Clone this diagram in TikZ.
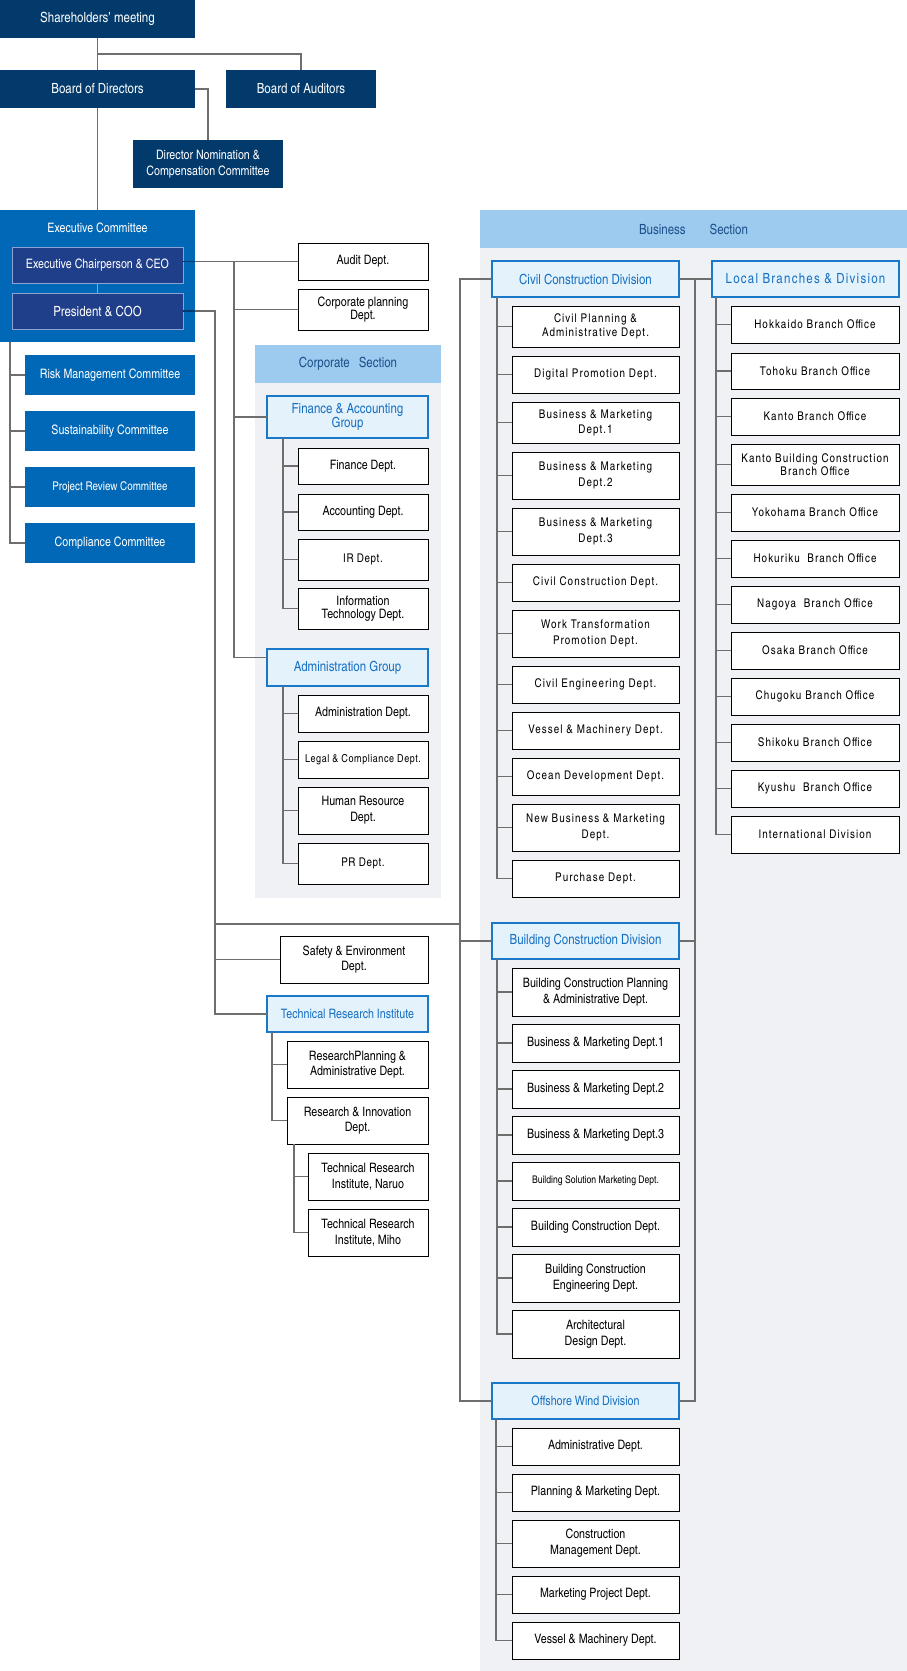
\documentclass[tikz,border=0pt]{standalone}
\usepackage{fontspec}
\setmainfont{texgyreheroscn}[Extension=.otf,UprightFont=*-regular,BoldFont=*-bold,ItalicFont=*-italic,BoldItalicFont=*-bolditalic]
\newfontfamily\spcfont{texgyreheroscn}[Extension=.otf,UprightFont=*-regular,BoldFont=*-bold,LetterSpace=9]
\newfontfamily\spclight{texgyreheroscn}[Extension=.otf,UprightFont=*-regular,BoldFont=*-bold,LetterSpace=5]
\definecolor{navyc}{HTML}{023A6C}
\definecolor{bluec}{HTML}{0068B6}
\definecolor{execc}{HTML}{203F8A}
\definecolor{execbd}{HTML}{8EA3D3}
\definecolor{headc}{HTML}{9CCBEF}
\definecolor{headtxt}{HTML}{1D4F8A}
\definecolor{bodyc}{HTML}{F0F1F5}
\definecolor{divc}{HTML}{E4F2FC}
\definecolor{divbd}{HTML}{1A78C8}
\definecolor{divtxt}{HTML}{1670C2}
\definecolor{linec}{HTML}{6E6E6E}
\tikzset{
  base/.style={rectangle, inner sep=0pt, outer sep=0pt, align=center},
  navybox/.style={base, fill=navyc, text=white, font=\fontsize{14}{16}\selectfont},
  bluebox/.style={base, fill=bluec, text=white, font=\fontsize{13}{15}\selectfont},
  execbox/.style={base, fill=execc, draw=execbd, line width=1pt, text=white, font=\fontsize{13}{15}\selectfont},
  headbox/.style={base, fill=headc, text=headtxt, font=\fontsize{14}{16}\selectfont},
  divbox/.style={base, fill=divc, draw=divbd, line width=1.5pt, text=divtxt, font=\fontsize{14}{15.5}\selectfont},
  wbox/.style={base, fill=white, draw=black, line width=1pt, font=\fontsize{13}{15.5}\selectfont},
  wsbox/.style={wbox, font=\spcfont\fontsize{12}{14}\selectfont},
  wlbox/.style={wbox, font=\spclight\fontsize{12}{14}\selectfont},
  conn/.style={draw=linec, line width=1.5pt},
  navyln/.style={draw=navyc, line width=1.5pt},
  innerln/.style={draw=execbd, line width=1.5pt},
}
\newcommand\boxnode[7]{\node[#1, minimum width={(#5)-(#3)}, minimum height={(#6)-(#4)}] (#2) at ({((#3)+(#5))/2},{((#4)+(#6))/2}) {#7};}
\begin{document}
\begin{tikzpicture}[x=1pt,y=-1pt]
\useasboundingbox (0,0) rectangle (907,1671);
% section backgrounds
\fill[bodyc] (255,383) rectangle (441,898);
\fill[bodyc] (480,248) rectangle (907,1671);
% top
\boxnode{navybox}{sh}{0}{0}{195}{38}{Shareholders’ meeting}
\boxnode{navybox}{bod}{0}{70}{195}{108}{Board of Directors}
\boxnode{navybox}{boa}{226}{70}{376}{108}{Board of Auditors}
\boxnode{navybox,font=\fontsize{13}{16}\selectfont}{dn}{133}{140}{283}{188}{Director Nomination \&\\Compensation Committee}
% executive
\boxnode{bluebox}{exec}{0}{210}{195}{342}{}
\node[base, text=white, font=\fontsize{13}{15}\selectfont] (exect) at (97.5,228) {Executive Committee};
\boxnode{execbox}{ceo}{12}{247}{183}{283}{Executive Chairperson \& CEO}
\boxnode{execbox,font=\fontsize{14}{16}\selectfont}{pres}{12}{293}{183}{329}{President \& COO}
\boxnode{bluebox}{risk}{25}{355}{195}{395}{Risk Management Committee}
\boxnode{bluebox}{sust}{25}{411}{195}{451}{Sustainability Committee}
\boxnode{bluebox,font=\fontsize{12}{14}\selectfont}{proj}{25}{467}{195}{507}{Project Review Committee}
\boxnode{bluebox}{comp}{25}{523}{195}{563}{Compliance Committee}
% staff
\boxnode{wbox}{audit}{298}{243}{428}{280}{Audit Dept.}
\boxnode{wbox,font=\fontsize{13}{13.5}\selectfont}{cplan}{298}{289}{428}{330}{Corporate planning\\Dept.}
% corporate section
\boxnode{headbox}{corph}{255}{345}{441}{383}{Corporate\hspace{9pt}Section}
\boxnode{divbox,font=\fontsize{14}{14.5}\selectfont}{fag}{267}{396}{428}{438}{Finance \& Accounting\\Group}
\boxnode{wbox}{fin}{298}{448}{428}{484}{Finance Dept.}
\boxnode{wbox}{acc}{298}{494}{428}{530}{Accounting Dept.}
\boxnode{wlbox}{ir}{298}{539}{428}{580}{IR Dept.}
\boxnode{wbox,font=\fontsize{13}{13.5}\selectfont}{it}{298}{588}{428}{629}{Information\\Technology Dept.}
\boxnode{divbox}{adg}{267}{649}{428}{686}{Administration Group}
\boxnode{wbox}{adm}{298}{695}{428}{732}{Administration Dept.}
\boxnode{wlbox,font=\spclight\fontsize{11}{13}\selectfont}{legal}{298}{741}{428}{778}{Legal \& Compliance Dept.}
\boxnode{wbox,font=\fontsize{13}{16}\selectfont}{hr}{298}{787}{428}{834}{Human Resource\\Dept.}
\boxnode{wlbox}{pr}{298}{843}{428}{884}{PR Dept.}
% safety and research
\boxnode{wbox}{safe}{280}{936}{428}{983}{Safety \& Environment\\Dept.}
\boxnode{divbox,font=\fontsize{13}{15}\selectfont}{tri}{267}{996}{428}{1032}{Technical Research Institute}
\boxnode{wbox}{rpa}{287}{1041}{428}{1088}{ResearchPlanning \&\\Administrative Dept.}
\boxnode{wbox}{rid}{287}{1097}{428}{1144}{Research \& Innovation\\Dept.}
\boxnode{wbox,font=\fontsize{13}{16}\selectfont}{naruo}{308}{1153}{428}{1200}{Technical Research\\Institute, Naruo}
\boxnode{wbox,font=\fontsize{13}{16}\selectfont}{miho}{308}{1209}{428}{1256}{Technical Research\\Institute, Miho}
% business section
\boxnode{headbox}{bush}{480}{210}{907}{248}{Business\hspace{24pt}Section}
\boxnode{divbox}{civ}{492}{261}{679}{297}{Civil Construction Division}
\boxnode{divbox,font=\spcfont\fontsize{14}{16}\selectfont,text=divtxt}{loc}{712}{261}{899}{297}{Local Branches \& Division}
\boxnode{wsbox}{cp}{512}{306}{679}{347}{Civil Planning \&\\Administrative Dept.}
\boxnode{wsbox}{dp}{512}{356}{679}{393}{Digital Promotion Dept.}
\boxnode{wsbox,font=\spcfont\fontsize{12}{15}\selectfont}{cbm1}{512}{402}{679}{443}{Business \& Marketing\\Dept.1}
\boxnode{wsbox,font=\spcfont\fontsize{12}{16}\selectfont}{cbm2}{512}{452}{679}{499}{Business \& Marketing\\Dept.2}
\boxnode{wsbox,font=\spcfont\fontsize{12}{16}\selectfont}{cbm3}{512}{508}{679}{555}{Business \& Marketing\\Dept.3}
\boxnode{wsbox}{ccd}{512}{564}{679}{601}{Civil Construction Dept.}
\boxnode{wsbox,font=\spcfont\fontsize{12}{16}\selectfont}{wt}{512}{610}{679}{657}{Work Transformation\\Promotion Dept.}
\boxnode{wsbox}{ce}{512}{666}{679}{703}{Civil Engineering Dept.}
\boxnode{wsbox}{vm}{512}{712}{679}{749}{Vessel \& Machinery Dept.}
\boxnode{wsbox}{od}{512}{758}{679}{795}{Ocean Development Dept.}
\boxnode{wsbox,font=\spcfont\fontsize{12}{16}\selectfont}{nb}{512}{804}{679}{851}{New Business \& Marketing\\Dept.}
\boxnode{wsbox}{pu}{512}{860}{679}{897}{Purchase Dept.}
% branches
\boxnode{wsbox}{hok}{731}{306}{899}{343}{Hokkaido Branch Office}
\boxnode{wsbox}{toh}{731}{353}{899}{389}{Tohoku Branch Office}
\boxnode{wsbox}{kan}{731}{398}{899}{435}{Kanto Branch Office}
\boxnode{wsbox,font=\spcfont\fontsize{12}{13}\selectfont}{kbc}{731}{444}{899}{485}{Kanto Building Construction\\Branch Office}
\boxnode{wsbox}{yok}{731}{494}{899}{531}{Yokohama Branch Office}
\boxnode{wsbox}{hkr}{731}{540}{899}{577}{Hokuriku\ \ Branch Office}
\boxnode{wsbox}{nag}{731}{586}{899}{623}{Nagoya\ \ Branch Office}
\boxnode{wsbox}{osa}{731}{632}{899}{669}{Osaka Branch Office}
\boxnode{wsbox}{chu}{731}{678}{899}{715}{Chugoku Branch Office}
\boxnode{wsbox}{shi}{731}{724}{899}{761}{Shikoku Branch Office}
\boxnode{wsbox}{kyu}{731}{770}{899}{807}{Kyushu\ \ Branch Office}
\boxnode{wsbox}{intl}{731}{816}{899}{853}{International Division}
% building construction
\boxnode{divbox}{bcd}{492}{923}{679}{959}{Building Construction Division}
\boxnode{wbox,font=\fontsize{13}{16}\selectfont}{bcp}{512}{968}{679}{1016}{Building Construction Planning\\\& Administrative Dept.}
\boxnode{wbox}{bb1}{512}{1024}{679}{1062}{Business \& Marketing Dept.1}
\boxnode{wbox}{bb2}{512}{1070}{679}{1108}{Business \& Marketing Dept.2}
\boxnode{wbox}{bb3}{512}{1116}{679}{1154}{Business \& Marketing Dept.3}
\boxnode{wbox,font=\fontsize{10.5}{12}\selectfont}{bsm}{512}{1162}{679}{1200}{Building Solution Marketing Dept.}
\boxnode{wbox}{bcdp}{512}{1208}{679}{1246}{Building Construction Dept.}
\boxnode{wbox,font=\fontsize{13}{16}\selectfont}{bce}{512}{1254}{679}{1302}{Building Construction\\Engineering Dept.}
\boxnode{wbox,font=\fontsize{13}{16}\selectfont}{arch}{512}{1310}{679}{1358}{Architectural\\Design Dept.}
% offshore wind
\boxnode{divbox,font=\fontsize{13}{15}\selectfont}{owd}{492}{1383}{679}{1419}{Offshore Wind Division}
\boxnode{wbox}{oad}{512}{1428}{679}{1465}{Administrative Dept.}
\boxnode{wbox}{opm}{512}{1474}{679}{1511}{Planning \& Marketing Dept.}
\boxnode{wbox,font=\fontsize{13}{16}\selectfont}{ocm}{512}{1520}{679}{1567}{Construction\\Management Dept.}
\boxnode{wbox}{omp}{512}{1576}{679}{1613}{Marketing Project Dept.}
\boxnode{wbox}{ovm}{512}{1622}{679}{1659}{Vessel \& Machinery Dept.}
% trunk coordinates
\coordinate (v0) at (10,0);
\coordinate (v1) at (215,0);
\coordinate (v2) at (234,0);
\coordinate (v3) at (460,0);
\coordinate (v4) at (695,0);
\coordinate (j) at (460,924);
% top connectors
\draw[conn] (sh.south) -- (bod.north);
\draw[conn] (sh.south) ++(0,16) -| (boa.north);
\draw[conn] (bod.east) -| (dn.north);
\draw[conn] (bod.south) -- (exec.north);
\draw[innerln] (ceo.south) -- (pres.north);
% committees
\draw[conn] (v0 |- exec.south) |- (comp.west);
\foreach \n in {risk,sust,proj} \draw[conn] (v0 |- \n.west) -- (\n.west);
% CEO line
\draw[navyln] (ceo.east |- audit.west) -- (exec.east |- audit.west);
\draw[conn] (exec.east |- audit.west) -- (audit.west);
\draw[conn] (v2 |- audit.west) |- ([yshift=10pt]adg.west);
\draw[conn] (v2 |- cplan.west) -- (cplan.west);
\draw[conn] (v2 |- fag.west) -- (fag.west);
% corporate groups
\draw[conn] ([xshift=16pt]fag.south west) |- (it.west);
\foreach \n in {fin,acc,ir} \draw[conn] (\n.west) -- ++(-15,0);
\draw[conn] ([xshift=16pt]adg.south west) |- (pr.west);
\foreach \n in {adm,legal,hr} \draw[conn] (\n.west) -- ++(-15,0);
% President line
\draw[navyln] (pres.east) -- (exec.east |- pres.east);
\draw[conn] (exec.east |- pres.east) -| (v1 |- tri.west) -- (tri.west);
\draw[conn] (v1 |- safe.west) -- (safe.west);
\draw[conn] (v1 |- j) -- (j);
\draw[conn] ([xshift=5pt]tri.south west) |- (rid.west);
\draw[conn] (rpa.west) -- ++(-15,0);
\draw[conn] ([xshift=7pt]rid.south west) |- (miho.west);
\draw[conn] (naruo.west) -- ++(-14,0);
% business trunks
\draw[conn] (civ.west) -| (v3 |- owd.west) -- (owd.west);
\draw[conn] (v3 |- bcd.west) -- (bcd.west);
\draw[conn] (civ.east) -- (loc.west);
\draw[conn] (v4 |- civ.east) |- (owd.east);
\draw[conn] (bcd.east) -- (v4 |- bcd.east);
% civil children
\draw[conn] ([xshift=5pt]civ.south west) |- (pu.west);
\foreach \n in {cp,dp,cbm1,cbm2,cbm3,ccd,wt,ce,vm,od,nb} \draw[conn] (\n.west) -- ++(-15,0);
% branches
\draw[conn] ([xshift=4pt]loc.south west) |- (intl.west);
\foreach \n in {hok,toh,kan,kbc,yok,hkr,nag,osa,chu,shi,kyu} \draw[conn] (\n.west) -- ++(-15,0);
% building children
\draw[conn] ([xshift=5pt]bcd.south west) |- (arch.west);
\foreach \n in {bcp,bb1,bb2,bb3,bsm,bcdp,bce} \draw[conn] (\n.west) -- ++(-15,0);
% offshore children
\draw[conn] ([xshift=4pt]owd.south west) |- (ovm.west);
\foreach \n in {oad,opm,ocm,omp} \draw[conn] (\n.west) -- ++(-16,0);
\end{tikzpicture}
\end{document}
